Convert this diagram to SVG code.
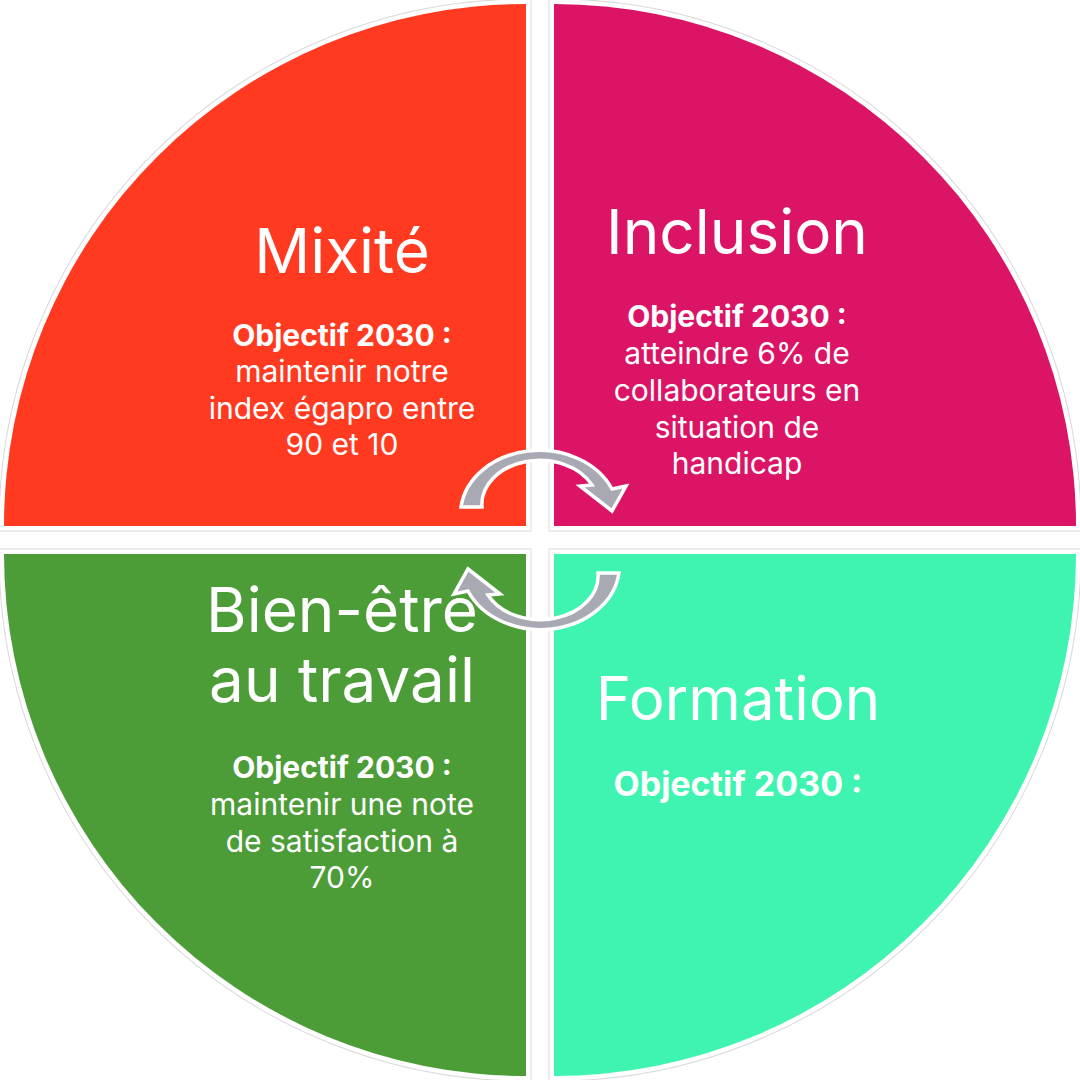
<svg xmlns="http://www.w3.org/2000/svg" xmlns:xlink="http://www.w3.org/1999/xlink" width="1080" height="1080" viewBox="0 0 1080 1080">
<style>
.halo{fill:none;stroke:#d9d9d9;stroke-width:11}
.edge{fill:none;stroke:#ffffff;stroke-width:9}
.title{font-family:Inter,"Noto Sans",sans-serif;font-size:62px;fill:#ffffff;text-anchor:middle}
.obj{font-family:Inter,"Noto Sans",sans-serif;font-size:30px;font-weight:700;fill:#ffffff;text-anchor:middle}
.body{font-family:Inter,"Noto Sans",sans-serif;font-size:30px;fill:#ffffff;text-anchor:middle}
.arrow{fill:#a8a9b3;stroke:#ffffff;stroke-width:3.5;stroke-linejoin:miter}
</style>
<defs>
<path id="qTL" d="M526,526 L4,526 A522,522 0 0 1 526,4 Z"/>
<path id="qTR" d="M554,526 L554,4 A522,522 0 0 1 1076,526 Z"/>
<path id="qBR" d="M554,554 L1076,554 A522,522 0 0 1 554,1076 Z"/>
<path id="qBL" d="M526,554 L526,1076 A522,522 0 0 1 4,554 Z"/>
<path id="arr" d="M461,507 A79,64 0 0 1 612,489 L626,486 L612,511 L580,486 L592,485 A58,44 0 0 0 482,507 Z"/>
</defs>
<rect width="1080" height="1080" fill="#ffffff"/>
<g id="mixite">
<use xlink:href="#qTL" class="halo"/>
<use xlink:href="#qTL" class="edge"/>
<use xlink:href="#qTL" fill="#ff3a20"/>
<text class="title" x="342" y="273">Mixité</text>
<text class="obj" x="342" y="346">Objectif 2030 :</text>
<text class="body" x="342" y="382">maintenir notre</text>
<text class="body" x="342" y="419">index égapro entre</text>
<text class="body" x="342" y="455">90 et 10</text>
</g>
<g id="inclusion">
<use xlink:href="#qTR" class="halo"/>
<use xlink:href="#qTR" class="edge"/>
<use xlink:href="#qTR" fill="#dc1466"/>
<text class="title" x="737" y="254">Inclusion</text>
<text class="obj" x="737" y="327">Objectif 2030 :</text>
<text class="body" x="737" y="364">atteindre 6% de</text>
<text class="body" x="737" y="401">collaborateurs en</text>
<text class="body" x="737" y="438">situation de</text>
<text class="body" x="737" y="474">handicap</text>
</g>
<g id="formation">
<use xlink:href="#qBR" class="halo"/>
<use xlink:href="#qBR" class="edge"/>
<use xlink:href="#qBR" fill="#3ef4b0"/>
<text class="title" x="738" y="720" style="font-size:60px">Formation</text>
<text class="obj" x="738" y="796" style="font-size:34px">Objectif 2030 :</text>
</g>
<g id="bien-etre">
<use xlink:href="#qBL" class="halo"/>
<use xlink:href="#qBL" class="edge"/>
<use xlink:href="#qBL" fill="#4c9c38"/>
<text class="title" x="342" y="632">Bien-être</text>
<text class="title" x="342" y="702">au travail</text>
<text class="obj" x="342" y="778">Objectif 2030 :</text>
<text class="body" x="342" y="815">maintenir une note</text>
<text class="body" x="342" y="852">de satisfaction à</text>
<text class="body" x="342" y="888">70%</text>
</g>
<g id="connectors">
<use xlink:href="#arr" class="arrow"/>
<use xlink:href="#arr" class="arrow" transform="rotate(180 540 540)"/>
</g>
</svg>
